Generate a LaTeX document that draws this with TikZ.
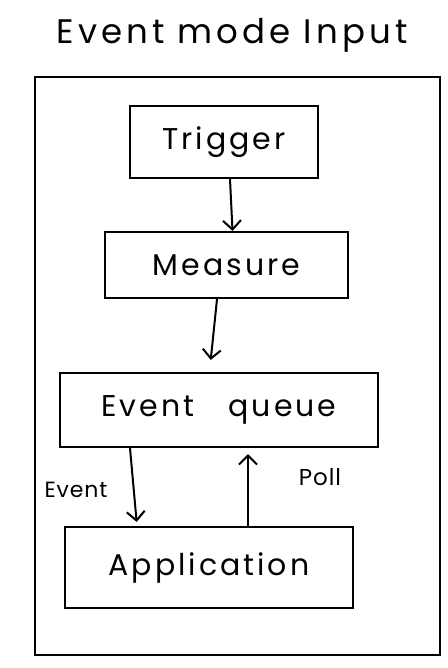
\documentclass[tikz,border=0pt]{standalone}
\usepackage{fontspec}
\setmainfont{Poppins}
\usetikzlibrary{arrows.meta}
\begin{document}
\begin{tikzpicture}[x=1pt,y=-1pt,
  box/.style={draw,line width=2.2pt,minimum width=#1,inner sep=0pt},
  lbl/.style={font=\addfontfeature{LetterSpace=10}\fontsize{30}{34}\selectfont},
  arr/.style={line width=2pt,-{Straight Barb[length=9pt,width=18pt,line width=2pt]}}]
\useasboundingbox (0,0) rectangle (447,668);
\node[font=\addfontfeature{LetterSpace=12}\fontsize{34}{38}\selectfont] (title) at (232,35) {Event mode Input};
\node[draw,line width=2.4pt,minimum width=405pt,minimum height=578pt,inner sep=0pt] (frame) at (237.5,366) {};
\node[box=188pt,minimum height=72pt,lbl] (trigger) at (224,142) {Trigger};
\node[box=243pt,minimum height=66pt,lbl] (measure) at (226.5,265) {Measure};
\node[box=318pt,minimum height=74pt,lbl] (queue) at (219,410) {Event\hspace{34pt}queue};
\node[box=288pt,minimum height=81pt,lbl] (app) at (209,567.5) {Application};
\draw[arr] ([xshift=6pt]trigger.south) -- ([xshift=6pt]measure.north);
\draw[arr,shorten >=12pt] ([xshift=-9.5pt]measure.south) -- ([xshift=-9.5pt]queue.north);
\draw[arr,shorten >=4pt] ([xshift=-89pt]queue.south) -- ([xshift=-72pt]app.north);
\node[font=\addfontfeature{LetterSpace=4}\fontsize{22}{24}\selectfont] (ev) at (76,490) {Event};
\draw[arr,shorten >=6pt] ([xshift=39pt]app.north) -- ([xshift=29pt]queue.south);
\node[font=\addfontfeature{LetterSpace=4}\fontsize{23}{25}\selectfont] (poll) at (320,477) {Poll};
\end{tikzpicture}
\end{document}
